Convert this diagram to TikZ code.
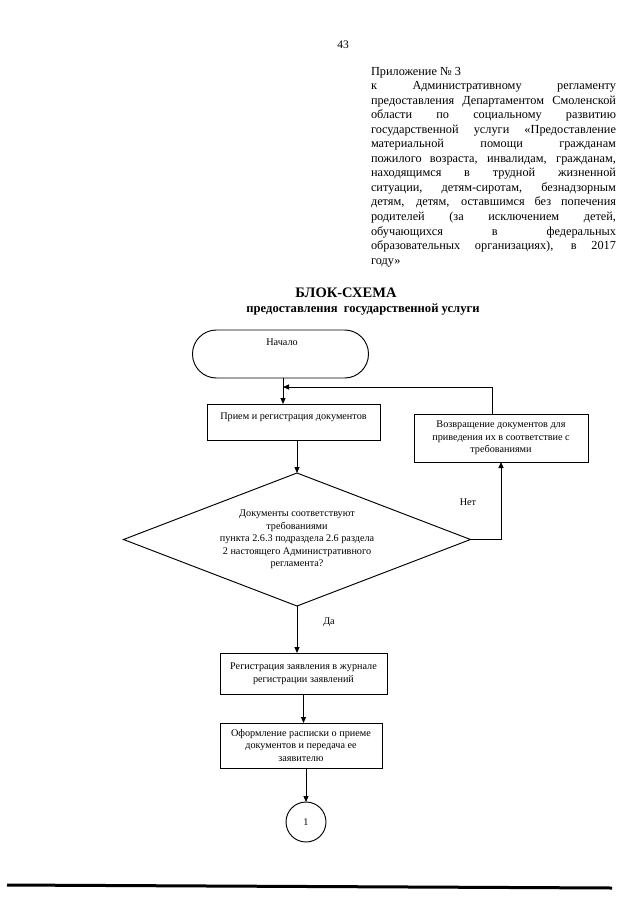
\documentclass[tikz,border=0pt]{standalone}
\usepackage{fontspec}
\setmainfont{Liberation Serif}
\usetikzlibrary{arrows.meta,shapes.geometric,calc}
\begin{document}
\begin{tikzpicture}[x=1pt,y=-1pt,
  every node/.style={inner sep=0pt,outer sep=0pt},
  hdr/.style={anchor=base west,font=\fontsize{12.3}{14.5}\selectfont},
  ftxt/.style={font=\fontsize{10.2}{12.6}\selectfont,align=center},
  box/.style={draw,line width=0.95pt,ftxt},
  arr/.style={line width=0.95pt,-{Triangle[length=6pt,width=5pt]}}
]
\useasboundingbox (0,0) rectangle (640,905);
\fill[white] (0,0) rectangle (640,905);

% page number
\node[font=\fontsize{11.5}{13}\selectfont,anchor=base] (pg) at (343,48) {43};

% header
\def\hw{245pt}
\node[hdr] (h1) at (371,75) {Приложение № 3};
\node[hdr] (h2) at (371,89.5) {\makebox[\hw][s]{к Административному регламенту}};
\node[hdr] (h3) at (371,104) {\makebox[\hw][s]{предоставления Департаментом Смоленской}};
\node[hdr] (h4) at (371,118.6) {\makebox[\hw][s]{области по социальному развитию}};
\node[hdr] (h5) at (371,133.1) {\makebox[\hw][s]{государственной услуги «Предоставление}};
\node[hdr] (h6) at (371,147.7) {\makebox[\hw][s]{материальной помощи гражданам}};
\node[hdr] (h7) at (371,162.2) {\makebox[\hw][s]{пожилого возраста, инвалидам, гражданам,}};
\node[hdr] (h8) at (371,176.8) {\makebox[\hw][s]{находящимся в трудной жизненной}};
\node[hdr] (h9) at (371,191.3) {\makebox[\hw][s]{ситуации, детям-сиротам, безнадзорным}};
\node[hdr] (h10) at (371,205.9) {\makebox[\hw][s]{детям, детям, оставшимся без попечения}};
\node[hdr] (h11) at (371,220.4) {\makebox[\hw][s]{родителей (за исключением детей,}};
\node[hdr] (h12) at (371,235) {\makebox[\hw][s]{обучающихся в федеральных}};
\node[hdr] (h13) at (371,249.5) {\makebox[\hw][s]{образовательных организациях), в 2017}};
\node[hdr] (h14) at (371,264) {году»};

% titles
\node[anchor=base,font=\fontsize{14.5}{16}\selectfont\bfseries] (t1) at (346,297) {БЛОК-СХЕМА};
\node[anchor=base,font=\fontsize{12.6}{14}\selectfont\bfseries] (t2) at (363,312) {предоставления\ \ государственной услуги};

% flowchart
\node[draw,line width=0.95pt,rounded corners=23.9pt,minimum width=176pt,
      text height=15.5pt,text depth=32.5pt,font=\fontsize{10.2}{12.6}\selectfont]
      (start) at (280.5,354) {\makebox[176pt]{\hspace*{3pt}Начало}};
\node[box,minimum width=173pt,text height=15.5pt,text depth=20.5pt]
      (r1) at (293.5,422) {Прием и регистрация документов};
\node[box,minimum width=174pt,minimum height=48pt]
      (ret) at (501,438) {Возвращение документов для\\приведения их в соответствие с\\требованиями};
\node[box,shape=diamond,aspect=2.6,minimum width=347pt,minimum height=133pt]
      (dia) at (297,539.5) {Документы соответствуют\\требованиями\\пункта 2.6.3 подраздела 2.6 раздела\\2 настоящего Административного\\регламента?};
\node[box,minimum width=167pt,minimum height=41pt]
      (r2) at (303.5,673.5) {Регистрация заявления в журнале\\регистрации заявлений};
\node[box,minimum width=162pt,minimum height=45pt]
      (r3) at (301,745.5) {Оформление расписки о приеме\\документов и передача ее\\заявителю};
\node[box,shape=ellipse,minimum width=40pt,minimum height=40pt]
      (c1) at (306,822) {1};

\coordinate (j) at (283,387);
\coordinate (rt) at (492,387);

\draw[arr] (start.south -| j) -- (r1.north -| j);
\draw[arr] (ret.north -| rt) -- (rt) -- (j);
\draw[arr] (r1.south -| dia.north) -- (dia.north);
\draw[arr] (dia.east) -| (ret.south);
\draw[arr] (dia.south) -- (r2.north -| dia.south);
\draw[arr] (r2.south) -- (r2.south |- r3.north);
\draw[arr] (r3.south -| c1.north) -- (c1.north);

\node[ftxt] (net) at (468,502) {Нет};
\node[ftxt] (da) at (329,622) {Да};

% bottom rule
\coordinate (bl) at (7,885);
\coordinate (br) at (612,888);
\draw[line width=3pt] (bl) -- (br);
\end{tikzpicture}
\end{document}
